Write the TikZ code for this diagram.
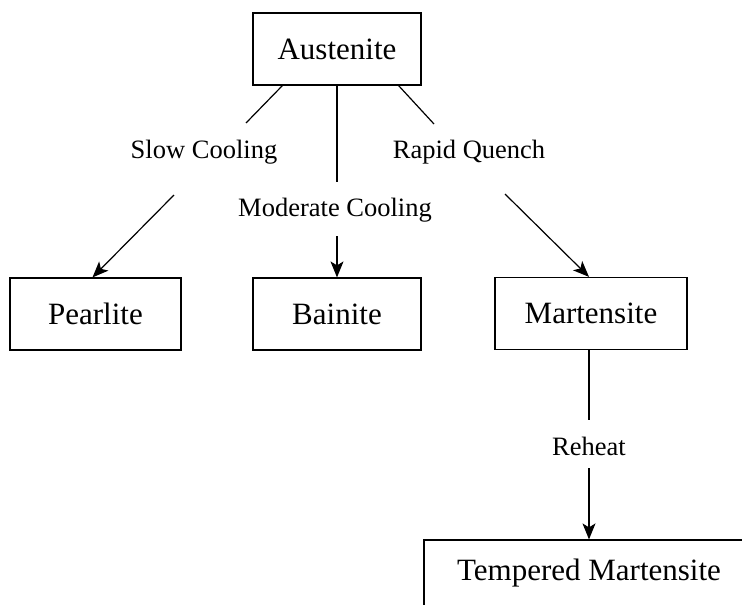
\documentclass[tikz,border=0pt]{standalone}
\usepackage{fontspec}
\setmainfont{Liberation Serif}
\usetikzlibrary{arrows.meta}

\tikzset{
    phase/.style={draw,line width=1.2pt,minimum height=72pt,font=\fontsize{31}{36}\selectfont},
    route/.style={font=\fontsize{26.5}{30}\selectfont,inner sep=0pt},
    link/.style={line width=1.2pt},
    flow/.style={line width=1.2pt,-{Stealth[length=16pt,width=13pt,inset=4pt]}}
}

\begin{document}
\begin{tikzpicture}[x=1pt,y=-1pt]
            \useasboundingbox (0,0) rectangle (742,605);
            \clip (0,0) rectangle (742,605);
            % phases
            \node[phase,minimum width=168pt] (aus) at (337,49) {Austenite};
            \node[phase,minimum width=171pt] (pearl) at (95.5,314) {Pearlite};
            \node[phase,minimum width=168pt] (bain) at (337,314) {Bainite};
            \node[phase,minimum width=192pt] (mart) at (591,313.5) {Martensite};
            \node[phase,minimum width=330pt,minimum height=66pt] (temp) at (589,573) {Tempered Martensite};
            % treatments
            \node[route] (slow) at (204,152) {Slow Cooling};
            \node[route] (mod) at (335,210) {Moderate Cooling};
            \node[route] (rapid) at (469,152) {Rapid Quench};
            \node[route] (reheat) at (589,446) {Reheat};
            \coordinate (slowA) at (246,123);
            \coordinate (slowB) at (174,195);
            \coordinate (modA) at (337,182);
            \coordinate (modB) at (337,236);
            \coordinate (rapidA) at (434,124);
            \coordinate (rapidB) at (505,194);
            \coordinate (reheatA) at (589,420);
            \coordinate (reheatB) at (589,468);
            \draw[link] (aus.south west) ++(30,0) -- (slowA);
            \draw[flow] (slowB) -- ([xshift=-3pt]pearl.north);
            \draw[link] (aus.south) -- (modA);
            \draw[flow] (modB) -- (bain.north);
            \draw[link] (aus.south east) ++(-23,0) -- (rapidA);
            \draw[flow] (rapidB) -- ([xshift=-2pt]mart.north);
            \draw[link] ([xshift=-2pt]mart.south) -- (reheatA);
            \draw[flow] (reheatB) -- (temp.north);
\end{tikzpicture}
\end{document}
